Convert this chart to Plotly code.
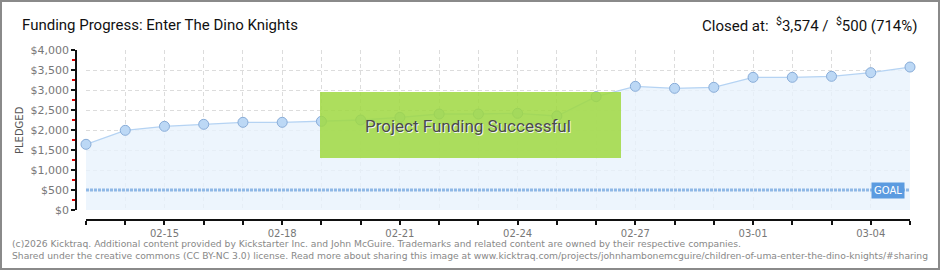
import plotly.graph_objects as go
import pandas as pd

# ---- data ----
dates = pd.date_range("2024-02-13", "2024-03-05", freq="D")
pledged = [1642, 1992, 2092, 2142, 2192, 2192, 2217, 2250, 2317, 2400, 2400,
           2417, 2350, 2833, 3092, 3042, 3067, 3317, 3317, 3342, 3433, 3574]
goal = 500
label_dates = ["02-15", "02-18", "02-21", "02-24", "02-27", "03-01", "03-04"]
ytick_vals = [0, 500, 1000, 1500, 2000, 2500, 3000, 3500, 4000]
ytick_text = ["$0", "$500", "$1,000", "$1,500", "$2,000", "$2,500", "$3,000", "$3,500", "$4,000"]
title_text = "Funding Progress: Enter The Dino Knights"
closed_text = "Closed at:  <sup>$</sup>3,574 /  <sup>$</sup>500 (714%)"
footer1 = ("(c)2026 Kicktraq. Additional content provided by Kickstarter Inc. and John McGuire. "
           "Trademarks and related content are owned by their respective companies.")
footer2 = ("Shared under the creative commons (CC BY-NC 3.0) license. Read more about sharing this image at "
           "www.kicktraq.com/projects/johnhambonemcguire/children-of-uma-enter-the-dino-knights/#sharing")

W, H = 940, 270
ML, MR, MT, MB = 76, 30, 50, 50
PW = W - ML - MR
PH = H - MT - MB


def px(x):
    return (x - ML) / PW


def py(y):
    return (H - MB - y) / PH


ticktext = [d.strftime("%m-%d") if d.strftime("%m-%d") in label_dates else " " for d in dates]

fig = go.Figure()
fig.add_trace(go.Scatter(
    x=dates, y=pledged, mode="lines+markers", fill="tozeroy",
    fillcolor="rgba(232,242,253,0.8)",
    line=dict(color="#b5d3f3", width=1.3),
    marker=dict(size=10, color="#bcd8f5", line=dict(color="#88acd8", width=1)),
    cliponaxis=False, hoverinfo="skip", showlegend=False))
fig.add_trace(go.Scatter(
    x=[dates[0], dates[-1]], y=[goal, goal], mode="lines",
    line=dict(color="#8fb8e6", width=3, dash="3px,1px"),
    hoverinfo="skip", showlegend=False))

fig.update_layout(
    width=W, height=H, margin=dict(l=ML, r=MR, t=MT, b=MB),
    paper_bgcolor="white", plot_bgcolor="rgba(0,0,0,0)",
    font=dict(family="DejaVu Sans", size=10, color="#777"),
    xaxis=dict(
        domain=[10 / PW, 1], anchor="free", position=0,
        range=[dates[0], dates[-1]], tickmode="array", tickvals=dates, ticktext=ticktext,
        showline=True, linecolor="#111", linewidth=1.5,
        ticks="outside", ticklen=4, tickcolor="#111", tickwidth=1.5,
        showgrid=True, gridcolor="#dcdcdc", griddash="4px,3px", gridwidth=1,
        zeroline=False, tickfont=dict(family="DejaVu Sans", size=10, color="#777"),
    ),
    yaxis=dict(
        domain=[10 / PH, 1], anchor="free", position=0,
        range=[0, 4000], tickmode="array", tickvals=ytick_vals, ticktext=ytick_text,
        showline=True, linecolor="#111", linewidth=1.5,
        ticks="outside", ticklen=4, tickcolor="#111", tickwidth=1.5,
        minor=dict(dtick=250, ticks="outside", ticklen=3, tickcolor="#e00000", tickwidth=1.5,
                   showgrid=False),
        showgrid=True, gridcolor="#dcdcdc", griddash="4px,3px", gridwidth=1,
        zeroline=False, tickfont=dict(family="DejaVu Sans", size=11, color="#777"),
    ),
)

shapes = [
    dict(type="rect", xref="paper", yref="paper", x0=px(1), x1=px(939), y0=py(269), y1=py(1),
         line=dict(color="#8a8a8a", width=2), fillcolor="rgba(0,0,0,0)", layer="above"),
    dict(type="rect", xref="paper", yref="paper", x0=px(320), x1=px(621), y0=py(158), y1=py(92),
         line=dict(width=0), fillcolor="rgba(160,216,66,0.86)", layer="above"),
]
fig.update_layout(shapes=shapes)

ann = [
    dict(text=title_text, x=px(20), y=py(25), xanchor="left", yanchor="middle",
         font=dict(family="Roboto", size=15, color="#111")),
    dict(text=closed_text, x=px(919), y=py(25), xanchor="right", yanchor="middle",
         font=dict(family="Roboto", size=15, color="#111")),
    dict(text="PLEDGED", x=px(19), y=py(130), textangle=-90, xanchor="center", yanchor="middle",
         font=dict(family="DejaVu Sans", size=10, color="#555")),
    dict(text=footer1, x=px(10), y=py(243), xanchor="left", yanchor="middle",
         font=dict(family="DejaVu Sans", size=9.2, color="#888")),
    dict(text=footer2, x=px(10), y=py(256), xanchor="left", yanchor="middle",
         font=dict(family="DejaVu Sans", size=9.2, color="#888")),
    dict(text="Project Funding Successful", x=px(469), y=py(127),
         xanchor="center", yanchor="middle",
         font=dict(family="Roboto", size=17, color="#f4f4f4")),
    dict(text="Project Funding Successful", x=px(468), y=py(126), xanchor="center", yanchor="middle",
         font=dict(family="Roboto", size=17, color="#4a4a4a")),
    dict(text="GOAL", x=dates[-1], y=goal, xref="x", yref="y", xanchor="right", yanchor="middle",
         xshift=-5, bgcolor="#5b9be0", borderpad=2,
         font=dict(family="DejaVu Sans", size=10, color="white")),
]
for a in ann:
    a.setdefault("xref", "paper")
    a.setdefault("yref", "paper")
    a["showarrow"] = False
fig.update_layout(annotations=ann)

fig.write_html("out.html")
